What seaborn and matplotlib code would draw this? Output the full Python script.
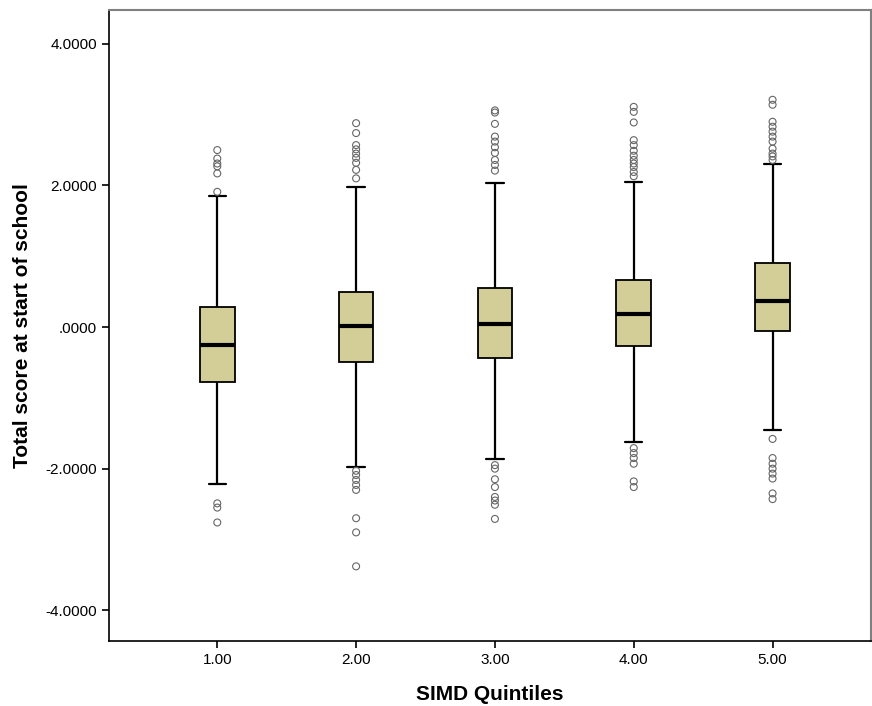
import matplotlib
matplotlib.use("Agg")
from matplotlib import pyplot as plt
import seaborn as sns
import pandas as pd

# SIMD quintile groups
quintiles = ["1.00", "2.00", "3.00", "4.00", "5.00"]

# five number summary (whisker ends, quartiles, median)
whisker_lo = [-2.21, -1.97, -1.86, -1.62, -1.45]
q1 = [-0.78, -0.50, -0.44, -0.27, -0.06]
median = [-0.26, 0.01, 0.05, 0.18, 0.37]
q3 = [0.29, 0.50, 0.55, 0.66, 0.91]
whisker_hi = [1.85, 1.98, 2.04, 2.05, 2.30]

# outliers per quintile
outliers_1 = [2.50, 2.38, 2.31, 2.27, 2.17, 1.91, -2.49, -2.55, -2.76]
outliers_2 = [2.88, 2.74, 2.57, 2.51, 2.45, 2.39, 2.32, 2.22, 2.10,
              -2.03, -2.09, -2.16, -2.23, -2.30, -2.70, -2.90, -3.38]
outliers_3 = [3.06, 3.03, 2.87, 2.69, 2.62, 2.54, 2.46, 2.36, 2.29, 2.21,
              -1.95, -2.00, -2.15, -2.26, -2.40, -2.45, -2.51, -2.71]
outliers_4 = [3.11, 3.04, 2.89, 2.64, 2.57, 2.49, 2.42, 2.36, 2.31, 2.26, 2.19, 2.13,
              -1.71, -1.78, -1.85, -1.93, -2.18, -2.26]
outliers_5 = [3.21, 3.14, 2.90, 2.83, 2.76, 2.69, 2.62, 2.52, 2.45, 2.41, 2.36,
              -1.58, -1.85, -1.93, -2.00, -2.07, -2.14, -2.35, -2.43]

ytick_values = [-4, -2, 0, 2, 4]
ytick_labels = ["-4.0000", "-2.0000", ".0000", "2.0000", "4.0000"]

# long tables for seaborn
box_rows = []
for i, q in enumerate(quintiles):
    for v in [whisker_lo[i], q1[i], median[i], q3[i], whisker_hi[i]]:
        box_rows.append({"quintile": q, "score": v})
box_df = pd.DataFrame(box_rows)

out_rows = []
for q, vals in zip(quintiles, [outliers_1, outliers_2, outliers_3, outliers_4, outliers_5]):
    for v in vals:
        out_rows.append({"quintile": q, "score": v})
out_df = pd.DataFrame(out_rows)

sns.set_style("ticks")
plt.rcParams["font.family"] = ["Liberation Sans", "DejaVu Sans"]
plt.rcParams["text.color"] = "black"
plt.rcParams["axes.labelcolor"] = "black"
plt.rcParams["xtick.color"] = "black"
plt.rcParams["ytick.color"] = "black"

fig = plt.figure(figsize=(8.72, 7.06), dpi=100)
ax = fig.add_axes([0.125, 0.092, 0.874, 0.894])

sns.boxplot(data=box_df, x="quintile", y="score", order=quintiles, ax=ax,
            width=0.25, whis=(0, 100), showfliers=False, color="#D3CE97",
            saturation=1, linecolor="black", linewidth=1.3,
            medianprops={"linewidth": 3, "color": "black"},
            whiskerprops={"linewidth": 1.6},
            capprops={"linewidth": 1.6})

sns.stripplot(data=out_df, x="quintile", y="score", order=quintiles, ax=ax,
              jitter=False, facecolors="none", edgecolor="0.4",
              linewidth=0.8, size=5)

ax.set_xlim(-0.78, 4.71)
ax.set_ylim(-4.435, 4.48)
ax.set_yticks(ytick_values)
ax.set_yticklabels(ytick_labels)

ax.set_xlabel("SIMD Quintiles", fontsize=15, fontweight="bold", labelpad=13)
ax.set_ylabel("Total score at start of school", fontsize=15, fontweight="bold", labelpad=10)
ax.tick_params(axis="both", labelsize=11, length=5, width=1.2, color="black",
               labelcolor="black")

for side in ["left", "bottom"]:
    ax.spines[side].set_color("black")
    ax.spines[side].set_linewidth(1.2)
for side in ["top", "right"]:
    ax.spines[side].set_visible(True)
    ax.spines[side].set_color("0.5")
    ax.spines[side].set_linewidth(1.5)

fig.savefig("out.png", dpi=100)
